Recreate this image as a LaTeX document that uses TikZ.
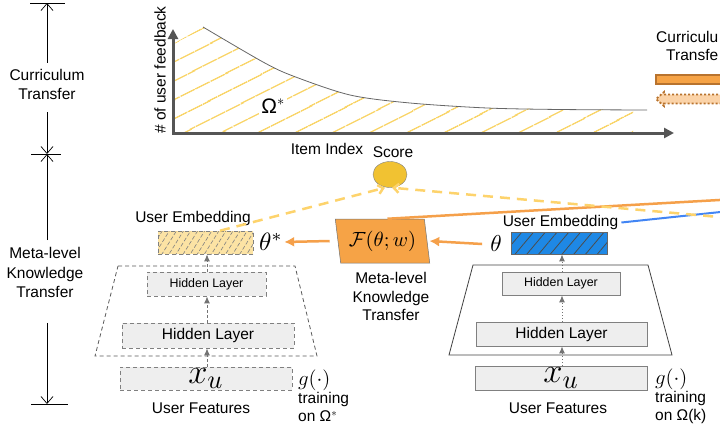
\documentclass[tikz,border=0pt]{standalone}
\usepackage{amsmath}
\usepackage{fontspec}
\setmainfont{Liberation Sans}
\usetikzlibrary{shapes.geometric,arrows.meta,patterns.meta}
\definecolor{boxorange}{HTML}{F6A346}
\definecolor{arroworange}{HTML}{F5A04A}
\definecolor{dashyellow}{HTML}{FDD36C}
\definecolor{scoreyellow}{HTML}{F1C232}
\definecolor{hatchyellow}{HTML}{F9D56A}
\definecolor{embyellow}{HTML}{FCE3A4}
\definecolor{embblue}{HTML}{1E88E5}
\definecolor{lineblue}{HTML}{4285F4}
\definecolor{layergray}{HTML}{EEEEEE}
\definecolor{axisgray}{HTML}{555555}
\definecolor{legendbrown}{HTML}{B8732E}
\definecolor{legendlight}{HTML}{FBD3A8}
\tikzset{
	>=latex,
	lbl/.style={font=\fontsize{15.5}{19.5}\selectfont, inner sep=1pt},
	mathlbl/.style={inner sep=1pt},
	scalearrow/.style={-{Straight Barb[length=7pt,width=12pt]}, line width=0.7pt},
	axisline/.style={{Triangle[length=10pt,width=10pt]}-{Triangle[length=10pt,width=10pt]}, line width=3pt, axisgray},
	dashborder/.style={dash pattern=on 4pt off 3pt},
	hidbox/.style={draw=gray, fill=layergray, line width=0.8pt, font=\fontsize{15.5}{18}\selectfont, inner sep=0pt},
	layerarrow/.style={-{Latex[length=7pt,width=6pt]}, gray!90!black, line width=1pt},
	orangearrow/.style={-{Latex[length=10pt,width=10pt]}, arroworange, line width=2.5pt},
	yellowdash/.style={-{Straight Barb[length=5pt,width=9pt]}, dashyellow, line width=2.5pt, dash pattern=on 10pt off 7pt}
}
\begin{document}
\begin{tikzpicture}[x=1pt, y=-1pt]
	\useasboundingbox (0,0) rectangle (720,434);
	\clip (0,0) rectangle (720,434);
	% scale on the left
	\node[lbl, align=center] (curtext) at (47,84.5) {Curriculum\\Transfer};
	\node[lbl, align=center] (metatext) at (45,272.5) {Meta-level\\Knowledge\\Transfer};
	\coordinate (tick1) at (47,3);
	\coordinate (tick2) at (47,154);
	\coordinate (tick3) at (47,404);
	\draw [line width=0.7pt] (30,3) -- (65,3);
	\draw [line width=0.7pt] (31,154) -- (61,154);
	\draw [line width=0.7pt] (31,404) -- (68,404);
	\draw [scalearrow] ([yshift=5pt]curtext.north) -- (tick1);
	\draw [scalearrow] ([yshift=-11pt]curtext.south) -- (tick2);
	\draw [scalearrow] ([yshift=6pt]metatext.north -| tick2) -- (tick2);
	\draw [scalearrow] ([yshift=-24pt]metatext.south -| tick3) -- (tick3);
	% curriculum chart
	\coordinate (origin) at (173,133);
	\fill [pattern={Lines[angle=27,distance=17pt,line width=1.6pt]}, pattern color=hatchyellow] (origin) -- (173,44) -- plot[smooth] coordinates {(203,27) (263,62) (293,76) (350,95) (410,103) (487,108) (633,109.5)} -- (633,133) -- cycle;
	\draw [gray!80!black, line width=0.8pt] plot[smooth] coordinates {(203,27) (263,62) (293,76) (350,95) (410,103) (487,108) (560,109.5) (647,110)};
	\draw [axisline] (173,29) -- (origin) -- (674,133);
	\node[lbl, rotate=90] (ylabel) at (160,70) {\# of user feedback};
	\node[lbl] (xlabel) at (327,149) {Item Index};
	\node[lbl, fill=white, font=\fontsize{21}{24}\selectfont, inner sep=2pt] (omega) at (273,106) {Ω$^*$};
	% legend, cut at the right edge
	\node[lbl, anchor=base west, inner sep=0pt] (legendtop) at (656,42.6) {Curriculu};
	\node[lbl, anchor=base west, inner sep=0pt] (legendbot) at (666,60.6) {Transfe};
	\draw [legendbrown, line width=2pt, fill=boxorange] (656,75) rectangle (730,84);
	\draw [legendbrown, line width=1.8pt, dash pattern=on 2pt off 2pt, fill=legendlight] (730,94.5) -- (664,94.5) -- (664,92) -- (656,99) -- (664,106) -- (664,103.5) -- (730,103.5);
	% score and transfer function
	\node[draw=gray, fill=scoreyellow, ellipse, minimum width=34pt, minimum height=26pt, inner sep=0pt] (score) at (390,174.5) {};
	\node[lbl] (scorelbl) at (393,152) {Score};
	\node[trapezium, trapezium left angle=102, trapezium right angle=78, trapezium stretches=true, minimum width=95pt, minimum height=44pt, fill=boxorange, draw=black!55, line width=0.5pt, inner sep=0pt] (fbox) at (382.5,241) {\scalebox{2.05}{$\mathcal{F}(\theta;w)$}};
	\node[lbl, align=center, font=\fontsize{15.5}{18.5}\selectfont] (fboxlbl) at (391,296.5) {Meta-level\\Knowledge\\Transfer};
	% left branch
	\node[draw=gray, line width=0.8pt, dashborder, minimum width=95pt, minimum height=23pt, preaction={fill=embyellow}, pattern={Lines[angle=58,distance=6pt,line width=0.6pt]}, pattern color=gray] (embA) at (205.5,242.5) {};
	\node[lbl] (embAlbl) at (193,218.5) {User Embedding};
	\node[mathlbl] (thetastar) at (271,242) {\scalebox{2.5}{$\theta^*$}};
	\draw [dashborder, gray!70!black, line width=0.8pt] (118,266) -- (295,266) -- (317,356) -- (95,356) -- cycle;
	\node[hidbox, dashborder, minimum width=119pt, minimum height=24pt, font=\fontsize{12.4}{14}\selectfont] (hidA1) at (206.5,284) {Hidden Layer};
	\node[hidbox, dashborder, minimum width=172pt, minimum height=25pt] (hidA2) at (208,335.5) {Hidden Layer};
	\node[hidbox, dashborder, minimum width=172pt, minimum height=23pt] (xuA) at (206,378.5) {\scalebox{2.4}{$x_u$}};
	\node[lbl] (featA) at (201,408) {User Features};
	\node[lbl, align=left, anchor=west, font=\fontsize{15.5}{18}\selectfont] (trainA) at (297,396) {\scalebox{1.45}{$g(\cdot)$}\\training\\on Ω$^*$};
	\draw [layerarrow, dash pattern=on 3pt off 2pt] ([xshift=1pt]xuA.north) -- ([xshift=1pt]xuA.north |- hidA2.south);
	\draw [layerarrow, dash pattern=on 3pt off 2pt] ([xshift=-1pt]hidA2.north) -- ([xshift=-1pt]hidA2.north |- hidA1.south);
	\draw [layerarrow, dash pattern=on 3pt off 2pt] ([xshift=0.5pt]hidA1.north) -- ([xshift=0.5pt]hidA1.north |- embA.south);
	% right branch
	\node[draw=gray!80!black, line width=0.8pt, minimum width=96pt, minimum height=22pt, preaction={fill=embblue}, pattern={Lines[angle=50,distance=9pt,line width=0.8pt]}, pattern color=black!70] (embB) at (559,243) {};
	\node[lbl] (embBlbl) at (560.5,222.5) {User Embedding};
	\node[mathlbl] (theta) at (496,244) {\scalebox{2.3}{$\theta$}};
	\draw [gray!50!black, line width=0.8pt] (473,265) -- (648,265) -- (672,355) -- (449,355) -- cycle;
	\node[hidbox, minimum width=118pt, minimum height=23pt, font=\fontsize{12.4}{14}\selectfont] (hidB1) at (561,283.5) {Hidden Layer};
	\node[hidbox, minimum width=171pt, minimum height=24pt] (hidB2) at (561.5,334) {Hidden Layer};
	\node[hidbox, minimum width=172pt, minimum height=24pt] (xuB) at (561,378) {\scalebox{2.4}{$x_u$}};
	\node[lbl] (featB) at (558,408) {User Features};
	\node[lbl, align=left, anchor=west, font=\fontsize{15.5}{18}\selectfont] (trainB) at (654,396) {\scalebox{1.45}{$g(\cdot)$}\\training\\on Ω(k)};
	\draw [layerarrow, dash pattern=on 1pt off 2pt] ([xshift=1pt]xuB.north) -- ([xshift=1pt]xuB.north |- hidB2.south);
	\draw [layerarrow, dash pattern=on 1pt off 2pt] ([xshift=0.5pt]hidB2.north) -- ([xshift=0.5pt]hidB2.north |- hidB1.south);
	\draw [layerarrow, dash pattern=on 1pt off 2pt] ([xshift=1pt]hidB1.north) -- ([xshift=1pt]hidB1.north |- embB.south);
	% connections
	\coordinate (orangeend) at (730,199.4);
	\coordinate (yellowend) at (730,218);
	\coordinate (blueend) at (730,211);
	\draw [orangearrow] ([xshift=-7pt]theta.west) -- ([xshift=2pt]fbox.east);
	\draw [orangearrow] ([xshift=-8pt]fbox.west) -- (thetastar.east);
	\draw [arroworange, line width=2.5pt] ([xshift=5pt]fbox.north) -- (orangeend);
	\draw [lineblue, line width=2pt] ([xshift=2pt]embBlbl.east) -- (blueend);
	\draw [yellowdash] ([xshift=14.5pt]embA.north) -- ([xshift=-5pt]score.south);
	\draw [yellowdash] (yellowend) -- ([xshift=2pt]score.south);
\end{tikzpicture}
\end{document}
